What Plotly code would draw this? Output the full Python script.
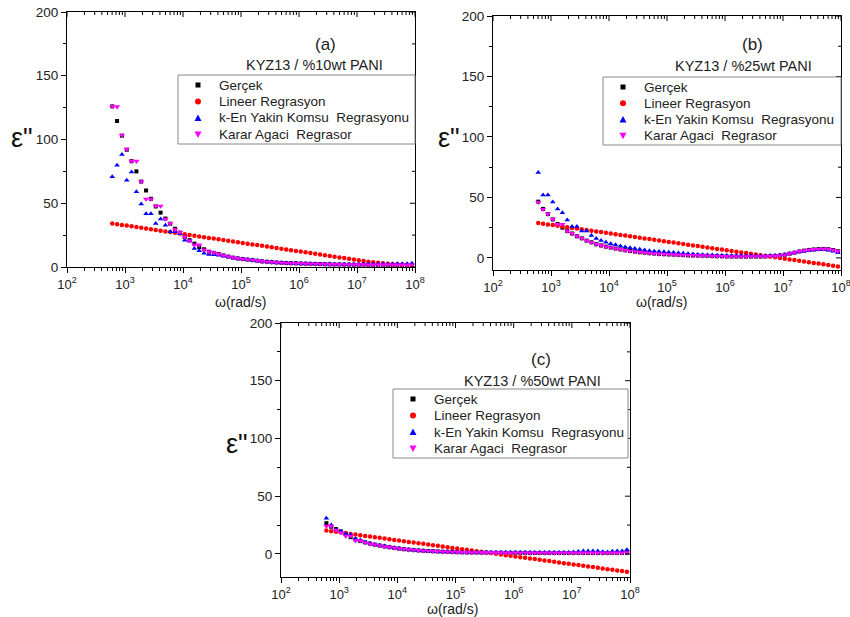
import math
import plotly.graph_objects as go

# ---------------- data ----------------
FREQ = [602.6, 730.0, 884.4, 1071.5, 1298.0, 1573.0, 1905.0, 2308.0, 2797.0, 3388.0, 4105.0, 4973.0,
        6026, 7300, 8844, 10715, 12980, 15730, 19050, 23080, 27970, 33880, 41050, 49730,
        60260, 73000, 88440, 107150, 129800, 157300, 190500, 230800, 279700, 338800, 410500, 497300,
        602600, 730000, 884400, 1071500, 1298000, 1573000, 1905000, 2308000, 2797000, 3388000, 4105000, 4973000,
        6026000, 7300000, 8844000, 10715000, 12980000, 15730000, 19050000, 23080000, 27970000, 33880000,
        41050000, 49730000, 60260000, 73000000, 88440000]

SERIES_NAMES = ["Gerçek", "Lineer Regrasyon", "k-En Yakin Komsu\u00a0 Regrasyonu", "Karar Agaci\u00a0 Regrasor"]

# panel (a)  KYZ13 / %10wt PANI
A_REAL = [126, 114.5, 103, 92, 83, 75, 67, 60, 53.5, 47.5,
          42.6, 38, 34, 30, 27, 23.6, 21, 18.3, 15.6, 13.9,
          12.0, 11.1, 10.2, 9.1, 8.1, 7.3, 6.7, 6.2, 5.8, 5.4,
          4.9, 4.4, 4.1, 3.8, 3.5, 3.3, 3.1, 3.0, 2.9, 2.7,
          2.6, 2.5, 2.4, 2.3, 2.2, 2.1, 2.0, 2.0, 1.9, 1.9,
          1.8, 1.8, 1.8, 1.7, 1.7, 1.7, 1.7, 1.6, 1.6, 1.6,
          1.6, 1.6, 1.6]
A_LIN = [34.2, 33.6, 33.0, 32.5, 31.9, 31.3, 30.8, 30.2, 29.6, 29.1,
         28.5, 27.9, 27.4, 26.8, 26.2, 25.7, 25.1, 24.5, 24.0, 23.4,
         22.8, 22.3, 21.7, 21.1, 20.6, 20.0, 19.4, 18.9, 18.3, 17.7,
         17.2, 16.6, 16.0, 15.5, 14.9, 14.3, 13.8, 13.2, 12.6, 12.1,
         11.5, 10.9, 10.4, 9.8, 9.2, 8.7, 8.1, 7.5, 7.0, 6.4,
         5.8, 5.3, 4.7, 4.2, 3.7, 3.3, 2.9, 2.6, 2.3, 2.1,
         1.9, 1.7, 1.6]
A_KNN = [70.7, 79.8, 88.2, 68, 74.6, 59, 49.4, 41.8, 41.8, 34.2,
         37.6, 32.7, 27.7, 27.7, 26, 21, 20.4, 14.6, 12.8, 10.7,
         9.9, 9.6, 9.3, 8.7, 8.0, 7.3, 6.7, 6.2, 5.8, 5.4,
         4.9, 4.5, 4.2, 3.9, 3.6, 3.4, 3.2, 3.0, 2.9, 2.8,
         2.7, 2.6, 2.5, 2.4, 2.3, 2.3, 2.2, 2.2, 2.2, 2.2,
         2.2, 2.2, 2.3, 2.3, 2.3, 2.4, 2.4, 2.4, 2.4, 2.5,
         2.5, 2.6, 3.0]
A_DT = [126, 125.7, 103.4, 92.4, 83, 83, 67, 53.3, 53.3, 47.8,
        47.8, 37.6, 34.2, 29.5, 27.2, 23.5, 20.5, 17.3, 17.3, 13.5,
        12.0, 11.2, 10.2, 9.1, 8.1, 7.3, 6.7, 6.2, 5.8, 5.4,
        4.9, 4.4, 4.1, 3.8, 3.5, 3.3, 3.1, 3.0, 2.9, 2.7,
        2.6, 2.5, 2.4, 2.3, 2.2, 2.1, 2.0, 2.0, 1.9, 1.9,
        1.8, 1.8, 1.8, 1.7, 1.7, 1.7, 1.7, 1.6, 1.6, 1.6,
        1.6, 1.6, 1.6]

# panel (b)  KYZ13 / %25wt PANI
B_REAL = [46.5, 40.5, 36.2, 31.8, 28, 25, 22.3, 20.2, 17.9, 16.2,
          14.3, 12.9, 11.3, 10.3, 9.3, 8.5, 7.7, 7.0, 6.3, 5.7,
          5.2, 4.7, 4.3, 3.9, 3.6, 3.3, 3.1, 2.9, 2.7, 2.5,
          2.3, 2.1, 2.0, 1.9, 1.8, 1.7, 1.5, 1.4, 1.3, 1.2,
          1.1, 1.1, 1.1, 1.1, 1.1, 1.1, 1.1, 1.2, 1.4, 1.6,
          1.9, 2.6, 3.5, 4.3, 5.3, 6.0, 6.6, 7.0, 7.3, 7.4,
          7.2, 6.5, 5.5]
B_LIN = [28.9, 28.3, 27.7, 27.2, 26.6, 26.0, 25.4, 24.8, 24.3, 23.7,
         23.1, 22.5, 21.9, 21.4, 20.8, 20.2, 19.6, 19.0, 18.5, 17.9,
         17.3, 16.7, 16.1, 15.6, 15.0, 14.4, 13.8, 13.2, 12.7, 12.1,
         11.5, 10.9, 10.3, 9.8, 9.2, 8.6, 8.0, 7.4, 6.9, 6.3,
         5.7, 5.1, 4.5, 4.0, 3.4, 2.8, 2.2, 1.6, 1.1, 0.5,
         -0.1, -0.7, -1.3, -1.8, -2.4, -3.0, -3.6, -4.2, -4.7, -5.3,
         -5.9, -6.5, -7.1]
B_KNN = [70.7, 52, 52, 46.2, 40.5, 37.3, 31.4, 26, 26, 22.2,
         22.2, 18.6, 16, 14.3, 13, 11.8, 10.8, 9.9, 9.1, 8.4,
         7.7, 7.1, 6.5, 6.0, 5.6, 5.3, 5.0, 4.7, 4.4, 4.1,
         3.8, 3.5, 3.2, 2.9, 2.7, 2.5, 2.3, 2.1, 2.0, 1.9,
         1.8, 1.8, 1.7, 1.7, 1.7, 1.7, 1.7, 1.8, 1.9, 2.1,
         2.4, 2.9, 3.6, 4.3, 5.0, 5.6, 6.1, 6.5, 6.7, 6.7,
         6.4, 5.6, 4.2]
B_DT = [46, 40.2, 36.4, 32, 27.8, 27.8, 22.3, 20.2, 17.9, 16.2,
        14.3, 12.9, 11.3, 10.3, 9.3, 8.5, 7.7, 7.0, 6.3, 5.7,
        5.2, 4.7, 4.3, 3.9, 3.6, 3.3, 3.1, 2.9, 2.7, 2.5,
        2.3, 2.1, 2.0, 1.9, 1.8, 1.7, 1.5, 1.4, 1.3, 1.2,
        1.1, 1.1, 1.1, 1.1, 1.1, 1.1, 1.1, 1.2, 1.4, 1.6,
        1.9, 2.6, 3.5, 4.3, 5.3, 6.0, 6.6, 7.0, 7.3, 7.4,
        7.2, 6.5, 5.5]

# panel (c)  KYZ13 / %50wt PANI
C_REAL = [26.6, 23.5, 21.5, 19.5, 17.5, 14.5, 12.5, 11.2, 10.0, 8.9,
          8.0, 7.2, 6.5, 5.8, 5.2, 4.6, 4.1, 3.7, 3.3, 3.0,
          2.7, 2.5, 2.3, 2.1, 1.9, 1.8, 1.6, 1.5, 1.4, 1.3,
          1.2, 1.2, 1.1, 1.1, 1.0, 1.0, 1.0, 0.9, 0.9, 0.9,
          0.9, 0.9, 0.8, 0.8, 0.8, 0.8, 0.8, 0.8, 0.8, 0.8,
          0.8, 0.8, 0.8, 0.8, 0.8, 0.8, 0.8, 0.8, 0.8, 0.8,
          0.8, 0.9, 1.0]
C_LIN = [20.2, 19.6, 19.1, 18.5, 17.9, 17.3, 16.8, 16.2, 15.6, 15.0,
         14.5, 13.9, 13.3, 12.7, 12.1, 11.6, 11.0, 10.4, 9.9, 9.3,
         8.7, 8.1, 7.6, 7.0, 6.4, 5.8, 5.2, 4.7, 4.1, 3.5,
         2.9, 2.4, 1.8, 1.2, 0.7, 0.1, -0.5, -1.1, -1.7, -2.2,
         -2.8, -3.4, -3.9, -4.5, -5.1, -5.7, -6.2, -6.8, -7.4, -8.0,
         -8.6, -9.1, -9.7, -10.3, -10.9, -11.4, -12.0, -12.6, -13.2, -13.7,
         -14.3, -14.9, -15.5]
C_KNN = [30.9, 25, 21, 19.5, 17.5, 16.5, 13, 12, 10, 9.2,
         8.2, 7.5, 6.8, 6.0, 5.4, 4.8, 4.2, 3.8, 3.4, 3.0,
         2.7, 2.5, 2.3, 2.1, 1.9, 1.8, 1.7, 1.6, 1.5, 1.5,
         1.4, 1.4, 1.4, 1.4, 1.4, 1.4, 1.4, 1.4, 1.4, 1.4,
         1.4, 1.4, 1.4, 1.4, 1.4, 1.4, 1.4, 1.4, 1.4, 1.4,
         1.5, 1.6, 2.0, 2.5, 2.5, 2.6, 2.5, 1.8, 1.6, 2.4,
         2.5, 2.6, 3.5]
C_DT = [24, 24, 20.5, 18.5, 15.5, 15.5, 11.5, 11.5, 9.8, 8.6,
        8.0, 7.2, 6.2, 5.8, 5.2, 4.6, 4.1, 3.7, 3.3, 3.0,
        2.7, 2.5, 2.3, 2.1, 1.9, 1.8, 1.6, 1.5, 1.4, 1.3,
        1.2, 1.2, 1.1, 1.1, 1.0, 1.0, 1.0, 0.9, 0.9, 0.9,
        0.9, 0.9, 0.8, 0.8, 0.8, 0.8, 0.8, 0.8, 0.8, 0.8,
        0.8, 0.8, 0.8, 0.8, 0.8, 0.8, 0.8, 0.8, 0.8, 0.8,
        0.8, 0.9, 1.0]

PANEL_LABELS = ["(a)", "(b)", "(c)"]
PANEL_TITLES = ["KYZ13 / %10wt PANI", "KYZ13 / %25wt PANI", "KYZ13 / %50wt PANI"]
Y_RANGES = [[0, 200], [-10, 200], [-20, 200]]
Y_TICKS = [0, 50, 100, 150, 200]
Y_MINOR = [25, 75, 125, 175]
X_TICKS = [1e2, 1e3, 1e4, 1e5, 1e6, 1e7, 1e8]
X_TICKTEXT = ["10<sup>%d</sup>" % k for k in range(2, 9)]

# ---------------- styling ----------------
W, H = 850, 617
FONT = "Liberation Sans, Arial, sans-serif"
TXT = "#222"
STYLES = [dict(symbol="square", color="#000000", size=4),
          dict(symbol="circle", color="#ff0000", size=4.5),
          dict(symbol="triangle-up", color="#0000ff", size=5),
          dict(symbol="triangle-down", color="#ff00ff", size=5.5)]

# panel boxes in pixels: left, right, top, bottom
BOXES = [(67, 415, 12, 267), (493, 841, 16, 270), (281, 630, 323, 577)]
LEGEND_BOX = [(178, 75, 415, 144), (603, 77, 841, 145), (393, 389, 628, 458)]
LABEL_POS = [(325, 44), (752, 45), (541, 359)]
TITLE_POS = [(314, 65), (743, 66), (532, 381)]
EPS_POS = [(22, 138), (449, 138), (237, 444)]
OMEGA_POS = [(240, 302), (661, 302), (452, 609)]

def px(x):
    return x / W

def py(y):
    return 1 - y / H

minor_x = [k * 10 ** e for e in range(2, 8) for k in range(2, 10)]

fig = go.Figure()
panel_data = [(A_REAL, A_LIN, A_KNN, A_DT), (B_REAL, B_LIN, B_KNN, B_DT), (C_REAL, C_LIN, C_KNN, C_DT)]
layout = dict(width=W, height=H, margin=dict(l=0, r=0, t=0, b=0, pad=0, autoexpand=False),
              paper_bgcolor="white", plot_bgcolor="white", showlegend=False,
              font=dict(family=FONT, size=13, color=TXT))
annotations = []
shapes = []

def ann(x, y, text, size, family=FONT, xanchor="center", color=TXT):
    annotations.append(dict(x=px(x), y=py(y), xref="paper", yref="paper", text=text,
                            showarrow=False, xanchor=xanchor, yanchor="middle",
                            font=dict(size=size, color=color, family=family)))

for p, series in enumerate(panel_data):
    n = p + 1
    xs = "x" if n == 1 else "x%d" % n
    ys = "y" if n == 1 else "y%d" % n
    for name, vals, st in zip(SERIES_NAMES, series, STYLES):
        fig.add_trace(go.Scatter(
            x=FREQ, y=vals, mode="markers", name=name, xaxis=xs, yaxis=ys,
            cliponaxis=False,
            marker=dict(symbol=st["symbol"], color=st["color"], size=st["size"], line=dict(width=0))))
    l, r, t, b = BOXES[p]
    wpx, hpx = r - l, b - t
    xr = [2, 8]
    yr = Y_RANGES[p]
    xkey = "xaxis" if n == 1 else "xaxis%d" % n
    ykey = "yaxis" if n == 1 else "yaxis%d" % n
    layout[xkey] = dict(type="log", range=xr, domain=[px(l), px(r)], anchor=ys,
                        showline=True, linecolor="black", linewidth=1, mirror=True,
                        showgrid=False, zeroline=False, ticklabeloverflow="allow",
                        tickmode="array", tickvals=X_TICKS, ticktext=X_TICKTEXT,
                        ticks="outside", ticklen=5, tickcolor="black",
                        tickfont=dict(size=13, color=TXT, family=FONT),
                        minor=dict(tickmode="array", tickvals=minor_x, ticks="outside",
                                   ticklen=3, tickcolor="black", showgrid=False))
    layout[ykey] = dict(range=yr, domain=[py(b), py(t)], anchor=xs,
                        showline=True, linecolor="black", linewidth=1, mirror=True,
                        showgrid=False, zeroline=False, ticklabeloverflow="allow",
                        tickmode="array", tickvals=Y_TICKS,
                        ticks="outside", ticklen=5, tickcolor="black",
                        tickfont=dict(size=13.5, color=TXT, family=FONT),
                        minor=dict(tickmode="array", tickvals=Y_MINOR, ticks="outside", ticklen=3,
                                   tickcolor="black", showgrid=False))
    # inward ticks on the mirrored (top / right) frame sides
    for v, ln in [(v, 5) for v in X_TICKS] + [(v, 3) for v in minor_x]:
        f = (math.log10(v) - xr[0]) / (xr[1] - xr[0])
        shapes.append(dict(type="line", xref=xs + " domain", yref=ys + " domain",
                           x0=f, x1=f, y0=1, y1=1 - ln / hpx, line=dict(color="black", width=1)))
    for v, ln in [(v, 5) for v in Y_TICKS] + [(v, 3) for v in Y_MINOR]:
        shapes.append(dict(type="line", xref=xs + " domain", yref=ys,
                           x0=1, x1=1 - ln / wpx, y0=v, y1=v, line=dict(color="black", width=1)))

    # legend box (drawn as shapes + text so that its row spacing matches)
    L, T, R, B = LEGEND_BOX[p]
    shapes.append(dict(type="rect", xref="paper", yref="paper", x0=px(L), x1=px(R), y0=py(B), y1=py(T),
                       line=dict(color="#888", width=1), fillcolor="white", layer="above"))
    row_h = (B - T - 3) / 4.0
    for k, (name, st) in enumerate(zip(SERIES_NAMES, STYLES)):
        cy = T + 10 + k * row_h
        mx = L + 20
        c = st["color"]
        if st["symbol"] == "square":
            shapes.append(dict(type="rect", xref="paper", yref="paper", layer="above",
                               x0=px(mx - 2.5), x1=px(mx + 2.5), y0=py(cy + 2.5), y1=py(cy - 2.5),
                               fillcolor=c, line=dict(width=0)))
        elif st["symbol"] == "circle":
            shapes.append(dict(type="circle", xref="paper", yref="paper", layer="above",
                               x0=px(mx - 3), x1=px(mx + 3), y0=py(cy + 3), y1=py(cy - 3),
                               fillcolor=c, line=dict(width=0)))
        elif st["symbol"] == "triangle-up":
            path = "M %f,%f L %f,%f L %f,%f Z" % (px(mx - 3.5), py(cy + 3), px(mx + 3.5), py(cy + 3),
                                                   px(mx), py(cy - 3.5))
            shapes.append(dict(type="path", xref="paper", yref="paper", layer="above", path=path,
                               fillcolor=c, line=dict(width=0)))
        else:
            path = "M %f,%f L %f,%f L %f,%f Z" % (px(mx - 3.5), py(cy - 3), px(mx + 3.5), py(cy - 3),
                                                   px(mx), py(cy + 3.5))
            shapes.append(dict(type="path", xref="paper", yref="paper", layer="above", path=path,
                               fillcolor=c, line=dict(width=0)))
        ann(L + 39, cy, name, 13.5, xanchor="left")

    ax_, ay_ = LABEL_POS[p]
    ann(ax_, ay_, PANEL_LABELS[p], 17)
    tx, ty = TITLE_POS[p]
    ann(tx, ty, PANEL_TITLES[p], 14.5)
    ex, ey = EPS_POS[p]
    ann(ex, ey, "ε\"", 27, color="#111")
    ox, oy = OMEGA_POS[p]
    ann(ox, oy, "ω(rad/s)", 14)

layout["annotations"] = annotations
layout["shapes"] = shapes
fig.update_layout(**layout)
fig.write_html("out.html")
